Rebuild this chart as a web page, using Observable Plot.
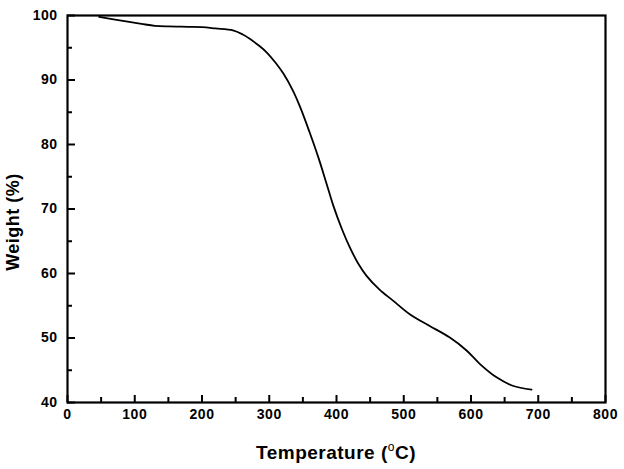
<!DOCTYPE html>
<html>
<head>
<meta charset="utf-8">
<script src="https://cdn.jsdelivr.net/npm/d3@7"></script>
<script src="https://cdn.jsdelivr.net/npm/@observablehq/plot@0.6"></script>
<style>
  html, body { margin: 0; padding: 0; background: #fff; }
  #chart { width: 624px; height: 469px; }
</style>
</head>
<body>
<div id="chart"></div>
<script>
const temperature = [47, 80, 110, 130, 150, 180, 200, 220, 246, 260, 271, 285, 296, 310, 321, 335, 346, 360, 373, 385, 395, 408, 420, 432, 445, 464, 484, 510, 538, 568, 593, 613, 638, 662, 690];
const weight      = [99.8, 99.2, 98.7, 98.4, 98.3, 98.25, 98.2, 98.0, 97.7, 97.1, 96.4, 95.3, 94.3, 92.6, 91.0, 88.4, 85.8, 81.9, 78.0, 74.0, 70.6, 66.9, 64.0, 61.6, 59.6, 57.5, 55.8, 53.6, 51.9, 50.1, 48.1, 46.0, 43.9, 42.6, 42.0];
const xMajor = [0, 100, 200, 300, 400, 500, 600, 700, 800];
const xMinor = [50, 150, 250, 350, 450, 550, 650, 750];
const yMajor = [40, 50, 60, 70, 80, 90, 100];
const yMinor = [45, 55, 65, 75, 85, 95];
const xTitle = "Temperature (";
const xTitleSup = "o";
const xTitleEnd = "C)";
const yTitle = "Weight (%)";

const data = temperature.map((t, i) => ({t, w: weight[i]}));

const W = 624, H = 469;
const plot = Plot.plot({
  width: W,
  height: H,
  marginLeft: 67,
  marginRight: 19,
  marginTop: 15,
  marginBottom: 67,
  style: {fontFamily: "'Liberation Sans', Arial, sans-serif", fontSize: "14px", fontWeight: "bold", color: "#000", background: "#fff", letterSpacing: "0.5px"},
  x: {domain: [0, 800]},
  y: {domain: [40, 100]},
  marks: [
    Plot.axisX({ticks: xMinor, tickSize: -5, text: null, strokeWidth: 2, label: null}),
    Plot.axisX({ticks: xMajor, tickSize: -7, tickPadding: 14, strokeWidth: 2, label: null, tickFormat: d => String(d)}),
    Plot.axisY({ticks: yMinor, tickSize: -5, text: null, strokeWidth: 2, label: null}),
    Plot.axisY({ticks: yMajor, tickSize: -8, tickPadding: 18, strokeWidth: 2, label: null, tickFormat: d => String(d)}),
    Plot.line(data, {x: "t", y: "w", stroke: "#000", strokeWidth: 1.8, curve: "catmull-rom"}),
    Plot.frame({stroke: "#000", strokeWidth: 2.2})
  ]
});
document.getElementById("chart").appendChild(plot);

const svg = d3.select(plot);
const xt = svg.append("text")
  .attr("x", 67 + (605 - 67) / 2)
  .attr("y", 459)
  .attr("text-anchor", "middle")
  .style("font-family", "'Liberation Sans', Arial, sans-serif")
  .style("font-weight", "bold")
  .style("font-size", "19px")
  .attr("fill", "#000");
xt.append("tspan").text(xTitle);
xt.append("tspan").attr("dy", -8).style("font-size", "12px").style("font-weight", "normal").text(xTitleSup);
xt.append("tspan").attr("dy", 8).text(xTitleEnd);

svg.append("text")
  .attr("transform", "translate(19,222) rotate(-90)")
  .attr("text-anchor", "middle")
  .style("font-family", "'Liberation Sans', Arial, sans-serif")
  .style("font-weight", "bold")
  .style("font-size", "18px")
  .attr("fill", "#000")
  .text(yTitle);
</script>
</body>
</html>
